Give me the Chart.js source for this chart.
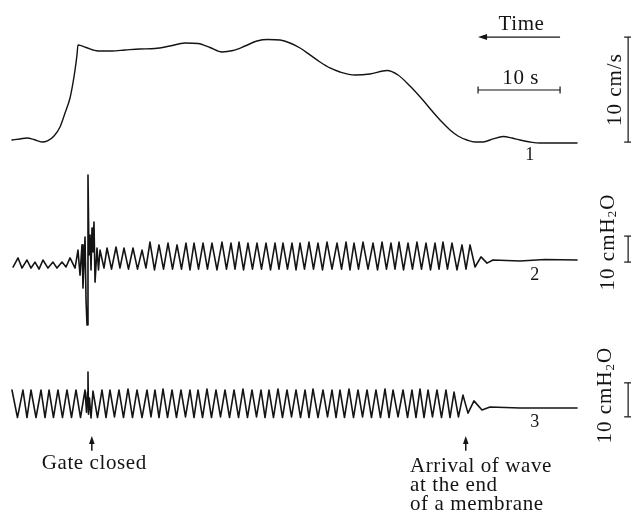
<!DOCTYPE html>
<html><head><meta charset="utf-8">
<script src="https://cdn.jsdelivr.net/npm/chart.js@4/dist/chart.umd.min.js"></script>
<style>html,body{margin:0;padding:0;background:#fff;}#wrap{width:631px;height:516px;}</style>
</head><body><div id="wrap"><canvas id="c" width="631" height="516"></canvas></div>
<script>
// ---------- DATA (time in s, trace 1 in cm/s, traces 2-3 in cmH2O) ----------
const trace1Time = [1.46,2.44,3.29,4.15,5.12,5.85,6.59,7.32,7.93,8.54,8.90,9.15,9.39,9.51,10.49,11.95,13.66,15.24,17.07,18.90,20.73,22.56,24.15,25.61,27.07,28.41,29.88,31.34,32.68,34.15,35.37,36.59,37.80,39.02,40.24,41.46,43.29,45.12,47.20,48.54,50.00,51.46,52.80,53.90,54.88,55.85,56.95,57.93,58.90,60.12,61.34,62.44,63.41,64.63,65.85,67.68,70.37];
const trace1Velocity = [0.00,0.10,0.19,0.05,-0.19,-0.05,0.38,1.24,2.57,4.00,5.43,6.67,8.10,9.05,8.81,8.48,8.48,8.57,8.67,8.71,8.95,9.24,9.19,8.81,8.38,8.52,8.95,9.43,9.57,9.52,9.24,8.76,8.10,7.43,6.86,6.48,6.19,6.29,6.62,6.19,5.14,3.90,2.67,1.71,0.95,0.38,0.00,-0.19,-0.19,0.10,0.33,0.19,0.00,-0.19,-0.29,-0.29,-0.29];

const trace2Time = [
 1.59,2.20,2.68,3.29,3.78,4.27,4.76,5.24,5.85,6.46,6.95,7.56,8.05,8.54,9.15,
 9.51,9.76,10.00,10.12,10.37,10.49,10.61,10.73,10.85,10.98,11.10,11.22,11.34,11.46,11.59,11.83,12.01,12.20,12.68,
 13.05,13.60,14.15,14.63,15.12,15.67,16.22,16.77,17.32,17.80,18.29,18.84,19.39,19.94,20.49,21.04,21.59,22.13,22.68,23.17,
 23.66,24.21,24.76,25.30,25.85,26.46,27.07,27.62,28.17,28.66,29.15,29.70,30.24,30.79,31.34,31.89,32.44,32.99,33.54,34.02,
 34.51,35.06,35.61,36.10,36.59,37.13,37.68,38.23,38.78,39.33,39.88,40.49,41.10,41.65,42.20,42.68,43.17,43.72,44.27,44.88,
 45.49,46.04,46.59,47.13,47.68,48.17,48.66,49.21,49.76,50.30,50.85,51.40,51.95,52.50,53.05,53.54,54.02,54.57,55.12,55.73,
 56.34,56.83,57.32,
 57.93,58.66,59.39,60.12,63.41,66.46,70.37];
const trace2Pressure = [
 -2.7,0.8,-3.1,0.0,-3.1,-0.8,-3.5,0.0,-3.1,-0.8,-3.1,-0.8,-2.7,0.8,-3.1,
 3.8,-5.8,5.8,-10.8,8.8,-15.4,-25.0,32.7,1.9,9.6,-3.8,12.3,3.1,14.6,-8.5,4.6,-3.8,3.8,-3.1,
 4.6,-3.5,5.0,-3.1,4.6,-3.5,4.6,-3.5,3.8,-3.1,6.9,-3.8,5.8,-3.5,6.5,-3.5,5.8,-3.5,6.5,-3.8,
 6.5,-3.5,6.5,-3.5,6.5,-3.8,6.9,-3.5,6.5,-3.5,6.9,-3.8,6.5,-3.5,6.5,-3.5,6.5,-3.8,6.5,-3.5,
 6.5,-3.5,6.5,-3.8,6.5,-3.5,6.9,-3.5,6.5,-3.8,6.9,-3.5,6.5,-3.5,6.9,-3.8,6.5,-3.5,6.9,-3.5,
 6.5,-3.8,6.9,-3.5,6.5,-3.5,6.9,-3.8,6.5,-3.5,6.9,-3.5,6.5,-3.8,6.5,-3.5,6.9,-3.5,6.5,-3.8,
 5.8,-3.5,5.8,
 -2.7,1.2,-1.2,0.0,-0.4,0.2,0.0];

const trace3Time = [
 1.46,2.13,2.80,3.29,3.78,4.39,5.00,5.49,5.98,6.52,7.07,7.62,8.17,8.72,9.27,9.82,10.37,
 10.55,10.67,10.73,10.79,10.91,11.10,11.34,
 11.89,12.44,12.93,13.41,13.96,14.51,15.06,15.61,16.16,16.71,17.32,17.93,18.41,18.90,19.39,19.88,20.43,20.98,21.52,22.07,
 22.62,23.17,23.66,24.15,24.70,25.24,25.79,26.34,26.89,27.44,27.99,28.54,29.09,29.63,30.18,30.73,31.28,31.83,32.32,32.80,
 33.35,33.90,34.45,35.00,35.55,36.10,36.65,37.20,37.68,38.17,38.78,39.39,39.94,40.49,40.98,41.46,42.01,42.56,43.11,43.66,
 44.21,44.76,45.30,45.85,46.40,46.95,47.44,47.93,48.54,49.15,49.70,50.24,50.73,51.22,51.71,52.20,52.74,53.29,53.84,54.39,
 54.88,55.37,55.91,56.46,
 57.07,57.80,58.78,59.76,63.41,70.37];
const trace3Pressure = [
 5.3,-2.8,5.3,-2.8,5.3,-2.8,5.3,-2.8,5.3,-2.8,5.3,-2.8,5.3,-2.8,5.3,-2.8,5.3,
 -1.2,4.7,10.6,-1.8,2.9,-2.9,5.0,
 -2.8,5.3,-2.8,5.3,-2.6,5.3,-2.8,5.6,-2.8,5.3,-2.8,5.3,-2.6,5.3,-2.8,5.6,-2.8,5.3,-2.8,5.3,
 -2.6,5.3,-2.8,5.3,-2.8,5.6,-2.8,5.3,-2.6,5.3,-2.8,5.3,-2.8,5.6,-2.8,5.3,-2.6,5.3,-2.8,5.3,
 -2.8,5.6,-2.8,5.3,-2.6,5.3,-2.8,5.3,-2.8,5.6,-2.8,5.3,-2.6,5.3,-2.8,5.3,-2.8,5.6,-2.8,5.3,
 -2.6,5.3,-2.8,5.3,-2.8,5.6,-2.8,5.3,-2.6,5.3,-2.8,5.3,-2.8,5.6,-2.8,5.3,-2.6,5.3,-2.8,5.3,
 -2.8,4.7,-2.6,3.8,
 -1.5,2.1,-0.6,0.3,0.0,0.0];

const traceLabels = ['1','2','3'];
const scaleLabels = ['Time','10 s','10 cm/s','10 cmH','2','O'];
const eventLabels = ['Gate closed','Arrival of wave','at the end','of a membrane'];

// ---------- helpers ----------
const FONT = '"Liberation Serif","DejaVu Serif",serif';
const INK = '#141414';
function pts(ts, vs){const n=Math.min(ts.length,vs.length);const o=[];for(let i=0;i<n;i++)o.push({x:ts[i],y:vs[i]});return o;}

// annotation anchors expressed in data units of the matching axis
const ann = {
  timeText:{t:63.6,v:11.0}, timeArrow:{from:68.3,to:58.3,v:9.8},
  barText:{t:63.5,v:5.9}, timeBar:{from:58.3,to:68.3,v:4.76},
  lab1:{t:64.6,v:-1.5}, lab2:{t:65.2,v:-5.8}, lab3:{t:65.2,v:-4.1},
  velText:{t:75.0,v:4.8}, velBar:{t:76.6,from:-0.2,to:9.8},
  p2Text:{t:74.15,v:6.9}, p2Bar:{t:76.6,from:-0.8,to:9.2},
  p3Text:{t:73.8,v:3.8}, p3Bar:{t:76.6,from:-2.6,to:7.4},
  gate:{t:11.2,from:-12.6,to:-8.2}, gateText:{t:11.5,v:-16.2},
  arrival:{t:56.8,from:-12.6,to:-8.2}, arrivalText:{t:50.0,v:[-17.1,-22.7,-28.3]}
};

const annotate = {
  id:'annotate',
  afterDatasetsDraw(chart){
    const c=chart.ctx, X=chart.scales.x, Y1=chart.scales.y1, Y2=chart.scales.y2, Y3=chart.scales.y3;
    const px=t=>X.getPixelForValue(t);
    c.save();
    c.fillStyle=INK; c.strokeStyle=INK; c.lineWidth=1.2;
    const text=(s,x,y,size,align,sp)=>{c.font=size+'px '+FONT;c.letterSpacing=(sp===undefined?0.6:sp)+'px';c.textAlign=align||'center';c.textBaseline='middle';c.fillText(s,x,y);c.letterSpacing='0px';};
    const line=(x1,y1,x2,y2)=>{c.beginPath();c.moveTo(x1,y1);c.lineTo(x2,y2);c.stroke();};
    const vbar=(x,ya,yb)=>{line(x,ya,x,yb);line(x-4,ya,x+4,ya);line(x-4,yb,x+4,yb);};
    const hbar=(xa,xb,y)=>{line(xa,y,xb,y);line(xa,y-3.5,xa,y+3.5);line(xb,y-3.5,xb,y+3.5);};
    const rot=(parts,x,y)=>{ // parts: [[text,size,shift]]
      c.save(); c.translate(x,y); c.rotate(-Math.PI/2); c.textBaseline='middle'; c.textAlign='left'; c.letterSpacing='1px';
      let w=0; parts.forEach(p=>{c.font=p[1]+'px '+FONT; w+=c.measureText(p[0]).width;});
      let cx=-w/2; parts.forEach(p=>{c.font=p[1]+'px '+FONT; c.fillText(p[0],cx,p[2]); cx+=c.measureText(p[0]).width;});
      c.restore();
    };
    // time arrow + label
    text(scaleLabels[0],px(ann.timeText.t),Y1.getPixelForValue(ann.timeText.v),21);
    const ay=Y1.getPixelForValue(ann.timeArrow.v), ax1=px(ann.timeArrow.from), ax2=px(ann.timeArrow.to);
    line(ax1,ay,ax2+6,ay);
    c.beginPath();c.moveTo(ax2,ay);c.lineTo(ax2+9,ay-3);c.lineTo(ax2+9,ay+3);c.closePath();c.fill();
    // 10 s bar
    text(scaleLabels[1],px(ann.barText.t),Y1.getPixelForValue(ann.barText.v),21);
    hbar(px(ann.timeBar.from),px(ann.timeBar.to),Y1.getPixelForValue(ann.timeBar.v));
    // trace numbers
    text(traceLabels[0],px(ann.lab1.t),Y1.getPixelForValue(ann.lab1.v),18,'center',0);
    text(traceLabels[1],px(ann.lab2.t),Y2.getPixelForValue(ann.lab2.v),18,'center',0);
    text(traceLabels[2],px(ann.lab3.t),Y3.getPixelForValue(ann.lab3.v),18,'center',0);
    // vertical scale labels + bars
    rot([[scaleLabels[2],21,0]],px(ann.velText.t),Y1.getPixelForValue(ann.velText.v));
    vbar(px(ann.velBar.t),Y1.getPixelForValue(ann.velBar.from),Y1.getPixelForValue(ann.velBar.to));
    const pres=[[scaleLabels[3],21,0],[scaleLabels[4],13,5],[scaleLabels[5],21,0]];
    rot(pres,px(ann.p2Text.t),Y2.getPixelForValue(ann.p2Text.v));
    vbar(px(ann.p2Bar.t),Y2.getPixelForValue(ann.p2Bar.from),Y2.getPixelForValue(ann.p2Bar.to));
    rot(pres,px(ann.p3Text.t),Y3.getPixelForValue(ann.p3Text.v));
    vbar(px(ann.p3Bar.t),Y3.getPixelForValue(ann.p3Bar.from),Y3.getPixelForValue(ann.p3Bar.to));
    // event arrows
    const up=(x,yb,yt)=>{c.lineWidth=1.5;line(x,yb,x,yt+5);c.beginPath();c.moveTo(x,yt);c.lineTo(x-2.8,yt+8);c.lineTo(x+2.8,yt+8);c.closePath();c.fill();c.lineWidth=1.2;};
    up(px(ann.gate.t),Y3.getPixelForValue(ann.gate.from),Y3.getPixelForValue(ann.gate.to));
    up(px(ann.arrival.t),Y3.getPixelForValue(ann.arrival.from),Y3.getPixelForValue(ann.arrival.to));
    text(eventLabels[0],px(ann.gateText.t),Y3.getPixelForValue(ann.gateText.v),21);
    ann.arrivalText.v.forEach((v,i)=>text(eventLabels[i+1],px(ann.arrivalText.t),Y3.getPixelForValue(v),21,'left'));
    c.restore();
  }
};

const ds=(data,axis,mode,w)=>({data,yAxisID:axis,borderColor:INK,borderWidth:w,pointRadius:0,fill:false,
  tension:mode?0.4:0,cubicInterpolationMode:mode||'default',borderJoinStyle:'round',borderCapStyle:'round'});

new Chart(document.getElementById('c'),{
  type:'line',
  data:{datasets:[
    ds(pts(trace1Time,trace1Velocity),'y1','monotone',1.4),
    ds(pts(trace2Time,trace2Pressure),'y2',null,1.6),
    ds(pts(trace3Time,trace3Pressure),'y3',null,1.6)
  ]},
  options:{
    responsive:false, animation:false, devicePixelRatio:1, events:[],
    layout:{padding:0},
    plugins:{legend:{display:false},tooltip:{enabled:false},title:{display:false}},
    scales:{
      x:{type:'linear',display:false,min:0,max:76.95},
      y1:{type:'linear',display:false,min:-35.81,max:13.333},
      y2:{type:'linear',display:false,min:-98.46,max:100},
      y3:{type:'linear',display:false,min:-31.76,max:120}
    }
  },
  plugins:[annotate]
});
</script></body></html>
